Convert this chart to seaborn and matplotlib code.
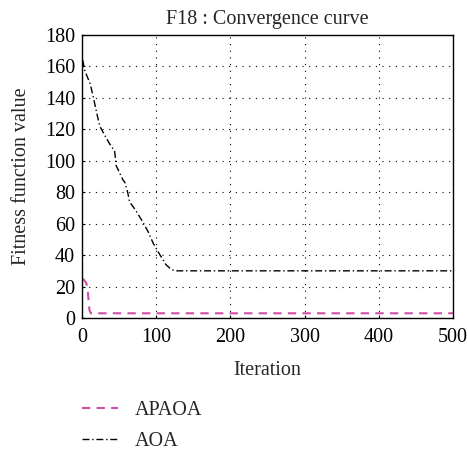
import matplotlib

matplotlib.use("Agg")
import matplotlib.pyplot as plt
import numpy as np
import pandas as pd
import seaborn as sns

# values
aoa_iter = [1, 4, 11, 15, 20, 24, 32, 37, 44, 46, 51, 55, 58, 62, 64, 73, 82, 89, 96, 104, 113, 120, 125, 500]
aoa_val = [164, 157, 149, 141, 130, 122, 115, 111, 106, 97, 92, 88, 86, 79, 74, 68, 61, 55, 47.5, 41, 34, 31, 30, 30]
apaoa_iter = [1, 3, 6, 8, 10, 12, 500]
apaoa_val = [25, 24, 22, 16, 5, 3, 3]

x_ticks = [0, 100, 200, 300, 400, 500]
y_ticks = [0, 20, 40, 60, 80, 100, 120, 140, 160, 180]


def main():
    sns.set_style("ticks")
    plt.rcParams["font.family"] = ["Liberation Serif", "DejaVu Serif"]
    fs = 14.5

    aoa = pd.DataFrame({"Iteration": aoa_iter, "Value": aoa_val})
    apaoa = pd.DataFrame({"Iteration": apaoa_iter, "Value": apaoa_val})

    fig = plt.figure(figsize=(4.68, 4.53), dpi=100)
    ax = fig.add_axes([82 / 468, 1 - 318 / 453, (453 - 82) / 468, (318 - 35) / 453])

    sns.lineplot(data=apaoa, x="Iteration", y="Value", ax=ax, color="#cf4fa5",
                 linewidth=1.5, label="APAOA")
    sns.lineplot(data=aoa, x="Iteration", y="Value", ax=ax, color="black",
                 linewidth=1.0, label="AOA")
    ax.lines[0].set_dashes((4, 3))
    ax.lines[1].set_dashes((5, 2, 1, 2))

    ax.set_xlim(0, 500)
    ax.set_ylim(0, 180)
    ax.set_xticks(x_ticks)
    ax.set_yticks(y_ticks)
    ax.tick_params(direction="in", length=2, pad=5, labelsize=fs, colors="black")
    ax.tick_params(axis="x", pad=7)
    ax.grid(True, color="black", linestyle=(0, (1, 5)), linewidth=0.8)
    for s in ax.spines.values():
        s.set_color("black")
        s.set_linewidth(1.0)

    ax.set_title("F18 : Convergence curve", fontsize=fs, pad=8)
    ax.set_xlabel("Iteration", fontsize=fs, labelpad=10)
    ax.set_ylabel("Fitness function value", fontsize=fs, labelpad=10)

    handles, labels = ax.get_legend_handles_labels()
    ax.get_legend().remove()
    fig.legend(handles, labels, loc="upper left", bbox_to_anchor=(64 / 468, 1 - 383 / 453),
               frameon=False, fontsize=fs, handlelength=1.8, handletextpad=0.8,
               labelspacing=0.6)

    fig.savefig("out.png", dpi=100)
    plt.close(fig)


if __name__ == "__main__":
    main()
